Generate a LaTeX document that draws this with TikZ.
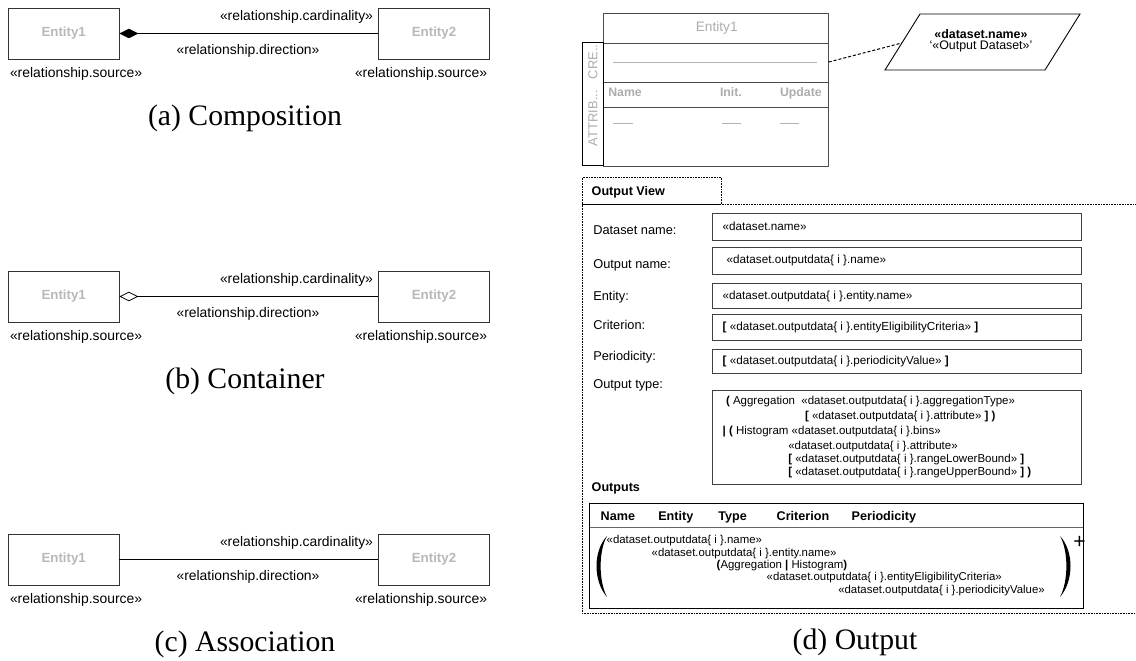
\documentclass[tikz,border=0pt]{standalone}
\usepackage{fontspec}
\setmainfont{Liberation Sans}
\newfontfamily\capserif{Liberation Serif}
\usetikzlibrary{arrows.meta}
\newcommand\fsize[1]{\fontsize{#1}{#1}\selectfont}
\begin{document}
\begin{tikzpicture}[x=1pt,y=-1pt,
  txt/.style={inner sep=0pt, outer sep=0pt},
  ent/.style={draw=black!80, line width=0.8pt, minimum width=110.7pt, minimum height=51pt,
              inner sep=0pt, font=\fsize{13.3}\bfseries, text=black!28},
  rel/.style={txt, font=\fsize{13.9}},
  capt/.style={txt, font=\capserif\fsize{29.7}},
  compo/.style={{Diamond[length=19pt,width=9.5pt]}-},
  contain/.style={{Diamond[open,length=19pt,width=9.5pt]}-},
  assoc/.style={-},
  conn/.style={line width=0.8pt},
  clsline/.style={draw=black!70, line width=0.9pt},
  grey/.style={txt, text=black!32},
  field/.style={draw=black!75, line width=0.9pt},
  flabel/.style={txt, anchor=west, font=\fsize{12.8}},
  ftext/.style={txt, anchor=west, font=\fsize{11.7}},
  otext/.style={txt, anchor=west, font=\fsize{11.5}},
  btext/.style={txt, anchor=west, font=\fsize{11.4}},
  hdr/.style={txt, anchor=west, font=\fsize{12.6}\bfseries},
  colhdr/.style={txt, anchor=base west, font=\fsize{12.6}\bfseries},
  dotframe/.style={densely dotted, line width=0.6pt}
]
\useasboundingbox (0,0) rectangle (1136,661);

% ---------- relationship panels (a), (b), (c) ----------
\foreach \ly/\kind/\nm/\capt in {33.5/compo/a/{(a) Composition},
                                 296.5/contain/b/{(b) Container},
                                 559.5/assoc/c/{(c) Association}}{
  \node[ent] (e1\nm) at (63.7,\ly) {Entity1};
  \node[ent] (e2\nm) at (434,\ly) {Entity2};
  \draw[conn,\kind] (e1\nm.east) -- (e2\nm.west);
  \node[rel, anchor=east] (card\nm) at (373,\ly-16.5) {«relationship.cardinality»};
  \node[rel] (dir\nm) at (248,\ly+17.5) {«relationship.direction»};
  \node[rel, anchor=west] (srcl\nm) at (10,\ly+40.5) {«relationship.source»};
  \node[rel, anchor=west] (srcr\nm) at (355,\ly+40.5) {«relationship.source»};
  \node[capt] (cap\nm) at (245,\ly+84.5) {\capt};
}

% ---------- class box with side tab ----------
\node[clsline, rectangle, minimum width=225pt, minimum height=153pt, inner sep=0pt]
  (cls) at (715.8,89.5) {};
\foreach \yy in {43,82,107}
  \draw[clsline] (cls.west |- 0,\yy) -- (cls.east |- 0,\yy);
\node[grey, font=\fsize{13.7}] (clsname) at (716.7,28) {Entity1};
\draw[black!30, line width=0.8pt] (613.3,62) -- (816.7,62);
\node[grey, anchor=base west, font=\fsize{12.3}\bfseries] (hname) at (608.3,96.5) {Name};
\node[grey, anchor=base west, font=\fsize{12.3}\bfseries] (hinit) at (720,96.5) {Init.};
\node[grey, anchor=base east, font=\fsize{12.3}\bfseries] (hupd) at (821.7,96.5) {Update};
\draw[black!30, line width=0.8pt] (613.3,123) -- (633.3,123)
                                  (721.7,123) -- (740.7,123)
                                  (780,123) -- (799.3,123);
\node[draw=black, line width=0.9pt, minimum width=21pt, minimum height=123pt, inner sep=0pt]
  (tab) at (592.8,103.5) {};
\node[grey, rotate=90, font=\fsize{13}] (tcre) at (592.8,62) {CRE..};
\node[grey, rotate=90, font=\fsize{13}] (tattr) at (592.8,118) {ATTRIB...};

% ---------- dataset parallelogram ----------
\draw[line width=0.9pt] (920,14) -- (1080,14) -- (1045,70) -- (885,70) -- cycle;
\coordinate (dsin) at (901.9,43);
\coordinate (clsout) at (cls.east |- 0,62);
\node[txt, font=\fsize{12.4}\bfseries] (dsname) at (981,34) {«dataset.name»};
\node[txt, font=\fsize{12.4}] (dsout) at (981,46.5) {‘«Output Dataset»’};
\draw[densely dashed, line width=1pt] (clsout) -- (dsin);

% ---------- output view frame ----------
\draw[dotframe] (582.3,204) rectangle (721,177);
\draw[dotframe] (1140,204) -- (582.3,204) -- (582.3,613) -- (1140,613);
\node[hdr] (ovt) at (591.7,192.5) {Output View};

\node[flabel] (l1) at (593.3,230) {Dataset name:};
\node[flabel] (l2) at (593.3,265) {Output name:};
\node[flabel] (l3) at (593.3,297) {Entity:};
\node[flabel] (l4) at (593.3,325) {Criterion:};
\node[flabel] (l5) at (593.3,357) {Periodicity:};
\node[flabel] (l6) at (593.3,385) {Output type:};

\draw[field] (712.7,213.3) rectangle (1081.7,240);
\draw[field] (712.7,247.7) rectangle (1081.7,274.3);
\draw[field] (712.7,283.3) rectangle (1081.7,308.3);
\draw[field] (712.7,314.3) rectangle (1081.7,340.7);
\draw[field] (712.7,349) rectangle (1081.7,373);
\draw[field] (712.7,390) rectangle (1081.7,484);

\node[ftext] (f1) at (722.7,226.7) {«dataset.name»};
\node[ftext] (f2) at (726.7,260.7) {«dataset.outputdata\{ i \}.name»};
\node[ftext] (f3) at (722.7,296.5) {«dataset.outputdata\{ i \}.entity.name»};
\node[ftext] (f4) at (722.7,327.7) {\textbf{[} «dataset.outputdata\{ i \}.entityEligibilityCriteria» \textbf{]}};
\node[ftext] (f5) at (722.7,361.5) {\textbf{[} «dataset.outputdata\{ i \}.periodicityValue» \textbf{]}};

\node[otext] (t1) at (726,402) {\textbf{(} Aggregation\ \ «dataset.outputdata\{ i \}.aggregationType»};
\node[otext] (t2) at (805,417) {\textbf{[} «dataset.outputdata\{ i \}.attribute» \textbf{] )}};
\node[otext] (t3) at (722.7,432) {\textbf{| (} Histogram «dataset.outputdata\{ i \}.bins»};
\node[otext] (t4) at (788.3,447) {«dataset.outputdata\{ i \}.attribute»};
\node[otext] (t5) at (788.3,460) {\textbf{[} «dataset.outputdata\{ i \}.rangeLowerBound» \textbf{]}};
\node[otext] (t6) at (788.3,473) {\textbf{[} «dataset.outputdata\{ i \}.rangeUpperBound» \textbf{] )}};

% ---------- outputs table ----------
\node[hdr] (outs) at (591.7,488.5) {Outputs};
\draw[line width=0.9pt] (589.5,503) rectangle (1083.3,608.5);
\draw[black!60, line width=0.8pt] (589.5,527) -- (1083.3,527);
\node[colhdr] (c1) at (600.7,520) {Name};
\node[colhdr] (c2) at (658.3,520) {Entity};
\node[colhdr] (c3) at (718.3,520) {Type};
\node[colhdr] (c4) at (776.7,520) {Criterion};
\node[colhdr] (c5) at (851.7,520) {Periodicity};

\node[btext] (r1) at (606.7,541) {«dataset.outputdata\{ i \}.name»};
\node[btext] (r2) at (651.7,553.3) {«dataset.outputdata\{ i \}.entity.name»};
\node[btext] (r3) at (716.7,565.7) {\textbf{(}Aggregation \textbf{|} Histogram\textbf{)}};
\node[btext] (r4) at (766.7,578) {«dataset.outputdata\{ i \}.entityEligibilityCriteria»};
\node[btext] (r5) at (838.3,590.3) {«dataset.outputdata\{ i \}.periodicityValue»};

% big repetition brackets
\fill (607,536) .. controls (593,551) and (593,581) .. (607,597)
      .. controls (598.5,581) and (598.5,551) .. (607,536) -- cycle;
\fill (1060,536) .. controls (1074,551) and (1074,581) .. (1060,597)
      .. controls (1068.5,581) and (1068.5,551) .. (1060,536) -- cycle;
\node[txt, font=\fsize{21}] (plus) at (1079.5,542) {+};

\node[capt] (capd) at (855,642) {(d) Output};
\end{tikzpicture}
\end{document}
